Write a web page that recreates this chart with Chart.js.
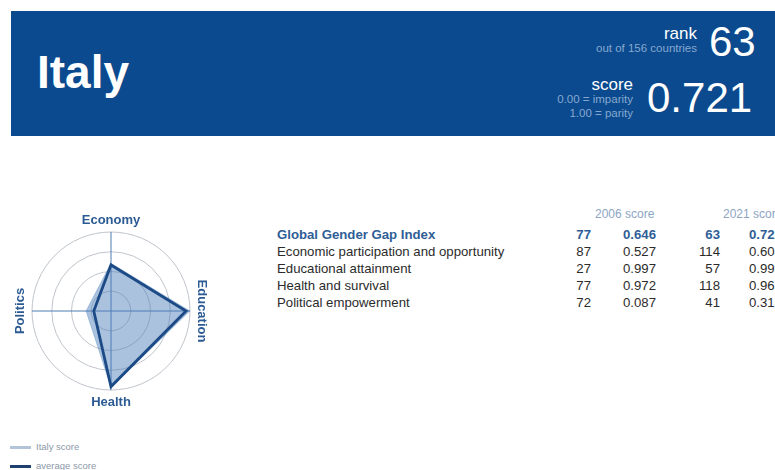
<!DOCTYPE html>
<html lang="en">
<head>
  <meta charset="UTF-8" />
  <title>Italy</title>
  <style>
    * {
      box-sizing: border-box;
      margin: 0;
      padding: 0;
    }

    body {
      width: 775px;
      height: 470px;
      overflow: hidden;
      position: relative;
      background: #fff;
      font-family: 'Liberation Sans', Arial, Helvetica, sans-serif;
    }

    .banner {
      position: absolute;
      left: 11px;
      top: 11px;
      width: 780px;
      height: 125px;
      background-color: #0b4a8e;
      color: #fff;
    }

    .country {
      position: absolute;
      left: 26px;
      top: 36px;
      font-size: 46px;
      font-weight: bold;
      line-height: 50px;
    }

    .lbl {
      position: absolute;
      text-align: right;
      white-space: nowrap;
    }

    .big {
      position: absolute;
      font-size: 42px;
      line-height: 42px;
      white-space: nowrap;
    }

    .small {
      color: #86a8d0;
      font-size: 11.5px;
    }

    #radarWrap {
      position: absolute;
      left: 0;
      top: 200px;
      width: 222px;
      height: 222px;
    }

    .cell {
      position: absolute;
      white-space: nowrap;
      font-size: 13.2px;
      line-height: 17px;
      color: #2b2b2b;
    }

    .cell.r {
      text-align: right;
    }

    .head {
      color: #8ca5c4;
      font-size: 12px;
    }

    .total {
      color: #2f5e96;
      font-weight: bold;
    }

    .legend {
      position: absolute;
      left: 10px;
      font-size: 9.5px;
      color: #8d99a8;
      white-space: nowrap;
    }

    .legend i {
      display: inline-block;
      width: 21px;
      height: 3px;
      margin-right: 5px;
      vertical-align: middle;
    }
  </style>
</head>
<body>
  <div class="banner">
    <div class="country">Italy</div>
  </div>

  <!-- rank / score block -->
  <div class="lbl" style="left:600px; top:24px; width:97px; font-size:17px; color:#fff;">rank</div>
  <div class="lbl small" style="left:560px; top:42px; width:137px;">out of 156 countries</div>
  <div class="big" id="rankBig" style="left:709px; top:21px; color:#fff;"></div>

  <div class="lbl" style="left:560px; top:75px; width:73px; font-size:17px; color:#fff;">score</div>
  <div class="lbl small" style="left:520px; top:93px; width:113px;">0.00 = imparity</div>
  <div class="lbl small" style="left:520px; top:107px; width:113px;">1.00 = parity</div>
  <div class="big" id="scoreBig" style="left:647px; top:77px; color:#fff;"></div>

  <div id="radarWrap">
    <canvas id="radarChart" width="222" height="222"></canvas>
  </div>

  <div id="table"></div>

  <div class="legend" style="top:441px;"><i style="background:#b3c4d8;"></i>Italy score</div>
  <div class="legend" style="top:460px;"><i style="background:#1f3f6e;"></i>average score</div>

  <script src="https://cdn.jsdelivr.net/npm/chart.js"></script>
  <script>
    const axes = ['Economy', 'Education', 'Health', 'Politics'];
    const indexNames = [
      'Global Gender Gap Index',
      'Economic participation and opportunity',
      'Educational attainment',
      'Health and survival',
      'Political empowerment'
    ];
    const rank2006 = [77, 87, 27, 77, 72];
    const score2006 = ['0.646', '0.527', '0.997', '0.972', '0.087'];
    const rank2021 = [63, 114, 57, 118, 41];
    const score2021 = ['0.721', '0.603', '0.998', '0.966', '0.316'];
    const averageScores = [0.583, 0.950, 0.957, 0.218];

    // sub-index scores for the radar come from the 2021 column
    const italyScores = score2021.slice(1).map(Number);

    document.getElementById('rankBig').textContent = rank2021[0];
    document.getElementById('scoreBig').textContent = score2021[0];

    // table
    const table = document.getElementById('table');
    function addCell(text, cls, style) {
      const d = document.createElement('div');
      d.className = 'cell ' + cls;
      d.textContent = text;
      d.setAttribute('style', style);
      table.appendChild(d);
    }

    addCell('2006 score', 'head', 'left:595px; top:206px;');
    addCell('2021 score', 'head', 'left:723px; top:206px;');

    indexNames.forEach((name, i) => {
      const top = 226 + i * 17;
      const extra = i === 0 ? ' total' : '';
      addCell(name, extra, `left:277px; top:${top}px;`);
      addCell(rank2006[i], 'r' + extra, `left:540px; width:51px; top:${top}px;`);
      addCell(score2006[i], 'r' + extra, `left:596px; width:60px; top:${top}px;`);
      addCell(rank2021[i], 'r' + extra, `left:670px; width:50px; top:${top}px;`);
      addCell(score2021[i], 'r' + extra, `left:722px; width:60px; top:${top}px;`);
    });

    // rotated axis names around the radar
    const axisNames = {
      id: 'axisNames',
      afterDraw(chart) {
        const scale = chart.scales.r;
        const ctx = chart.ctx;
        const dist = scale.drawingArea + 12;
        const rot = [0, Math.PI / 2, 0, -Math.PI / 2];
        ctx.save();
        ctx.font = "bold 13px 'Liberation Sans', Arial, sans-serif";
        ctx.fillStyle = '#2c5b94';
        ctx.textAlign = 'center';
        ctx.textBaseline = 'middle';
        axes.forEach((name, i) => {
          const p = scale.getPointPosition(i, dist);
          ctx.save();
          ctx.translate(p.x, p.y);
          ctx.rotate(rot[i]);
          ctx.fillText(name, 0, 0);
          ctx.restore();
        });
        ctx.restore();
      }
    };

    const radarChart = new Chart(document.getElementById('radarChart'), {
      type: 'radar',
      data: {
        labels: axes,
        datasets: [
          {
            label: 'average score',
            data: averageScores,
            borderColor: '#1c4a86',
            borderWidth: 2.8,
            backgroundColor: 'rgba(0,0,0,0)',
            fill: false,
            pointRadius: 0,
            order: 0,
            clip: false
          },
          {
            label: 'Italy score',
            data: italyScores,
            borderColor: 'rgba(78,128,186,0.35)',
            borderWidth: 1,
            backgroundColor: 'rgba(78,128,186,0.48)',
            fill: true,
            pointRadius: 0,
            order: 1,
            clip: false
          }
        ]
      },
      options: {
        responsive: false,
        animation: false,
        layout: { padding: 32 },
        plugins: {
          legend: { display: false },
          tooltip: { enabled: false }
        },
        scales: {
          r: {
            min: 0,
            max: 1,
            ticks: { display: false, stepSize: 0.25 },
            pointLabels: { display: false },
            grid: { circular: true, color: '#bfc4cb', lineWidth: 1 },
            angleLines: { color: '#4f7db3', lineWidth: 1 }
          }
        }
      },
      plugins: [axisNames]
    });
  </script>
</body>
</html>
